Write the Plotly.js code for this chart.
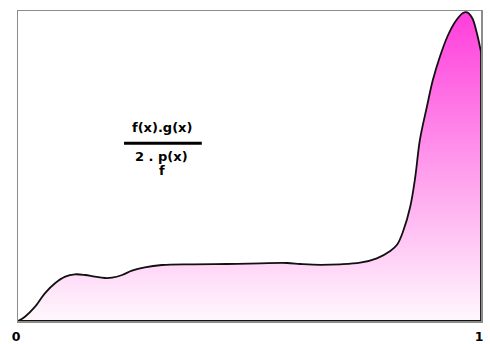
<!DOCTYPE html>
<html>
<head>
<meta charset="utf-8">
<script src="https://cdn.plot.ly/plotly-3.0.1.min.js"></script>
<style>html,body{margin:0;padding:0;background:#fff;}#chart{width:490px;height:344px;}</style>
</head>
<body>
<div id="chart"></div>
<script>
// Curve (x in [0,1], y in arbitrary height units)
const xVals = [0, 0.015, 0.037, 0.058, 0.080, 0.102, 0.123, 0.145, 0.166, 0.188, 0.203, 0.225, 0.246, 0.274, 0.311, 0.378, 0.451, 0.523, 0.581, 0.609, 0.637, 0.696, 0.739, 0.775, 0.804, 0.819, 0.832, 0.847, 0.858, 0.868, 0.883, 0.896, 0.911, 0.927, 0.944, 0.961, 0.970, 0.981, 0.991, 1.0];
const yVals = [0, 4.3, 14.3, 27.7, 37.7, 44.3, 46.7, 46, 44.3, 43, 43.3, 46, 50.3, 53.7, 56, 56.7, 57, 57.7, 58, 57, 56.3, 56.7, 58.3, 62.7, 70, 76.5, 90, 114, 144, 181, 214, 241, 264, 284, 299, 308, 308.7, 303, 288, 269];
const tickVals = [0, 1];
const tickText = ['0', '1'];
const numeratorText = 'f(x).g(x)';
const denominatorText = '2 . p(x)';
const subscriptText = 'f';

const trace = {
  x: xVals,
  y: yVals,
  type: 'scatter',
  mode: 'lines',
  line: {color: '#111111', width: 1.8, shape: 'spline', smoothing: 1},
  fill: 'tozeroy',
  fillgradient: {type: 'vertical', colorscale: [[0, '#fff8fd'], [1, '#ff3ddb']]},
  hoverinfo: 'skip'
};

const fnt = {family: 'DejaVu Sans', size: 13, color: '#000', weight: 'bold'};

const layout = {
  width: 490,
  height: 344,
  margin: {l: 18, r: 9, t: 11, b: 23},
  paper_bgcolor: '#ffffff',
  plot_bgcolor: '#ffffff',
  showlegend: false,
  xaxis: {
    range: [0, 1],
    tickvals: tickVals,
    ticktext: tickText,
    ticks: '',
    showgrid: false,
    zeroline: false,
    showline: true,
    mirror: true,
    linecolor: '#8c8c8c',
    linewidth: 1.5,
    ticklabelshift: -2,
    ticklabelstandoff: 3,
    tickfont: {family: 'DejaVu Sans', size: 12.5, color: '#000', weight: 'bold'}
  },
  yaxis: {
    range: [0, 310],
    showticklabels: false,
    ticks: '',
    showgrid: false,
    zeroline: false,
    showline: true,
    mirror: true,
    linecolor: '#8c8c8c',
    linewidth: 1.5
  },
  shapes: [
    {type: 'line', xref: 'x', yref: 'y', x0: 0, x1: 1, y0: 0, y1: 0, line: {color: '#111', width: 2}},
    {type: 'line', xref: 'x', yref: 'y', x0: 1, x1: 1, y0: 0, y1: yVals[yVals.length - 1], line: {color: '#111', width: 1.8}},
    {type: 'line', xref: 'paper', yref: 'paper', x0: 0.229, x1: 0.397, y0: 0.573, y1: 0.573, line: {color: '#000', width: 3}}
  ],
  annotations: [
    {xref: 'paper', yref: 'paper', x: 0.312, y: 0.6226, text: numeratorText, showarrow: false, xanchor: 'center', yanchor: 'middle', font: fnt},
    {xref: 'paper', yref: 'paper', x: 0.309, y: 0.530, text: denominatorText, showarrow: false, xanchor: 'center', yanchor: 'middle', font: fnt},
    {xref: 'paper', yref: 'paper', x: 0.3106, y: 0.484, text: subscriptText, showarrow: false, xanchor: 'center', yanchor: 'middle', font: fnt}
  ]
};

Plotly.newPlot('chart', [trace], layout, {displayModeBar: false, staticPlot: true});
</script>
</body>
</html>
